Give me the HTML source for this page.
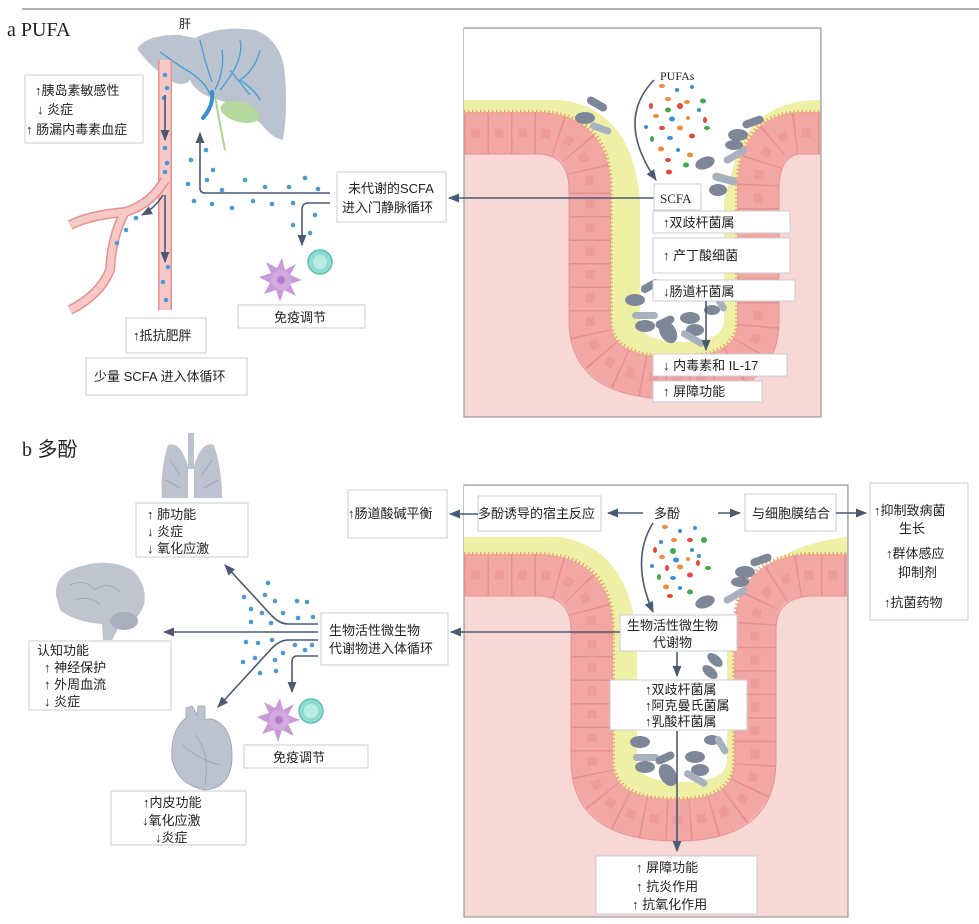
<!DOCTYPE html>
<html><head><meta charset="utf-8"><style>
html,body{margin:0;padding:0;background:#fff}
svg{display:block}
text{font-family:"Liberation Sans","Noto Sans CJK SC",sans-serif;font-size:13px;fill:#222}
.s{font-family:"Liberation Serif","Noto Serif CJK SC",serif}
.bx{fill:#fff;stroke:#c9ccd3;stroke-width:1}
.ln{fill:none;stroke:#4a5a74;stroke-width:1.6}
.d{fill:#4a9ad6}
.bac{fill:#7e8798}
.bac2{fill:#a9b0be}
</style></head><body>
<svg width="979" height="924" viewBox="0 0 979 924" xmlns="http://www.w3.org/2000/svg">
<defs>
<marker id="ah" viewBox="0 0 10 10" refX="9" refY="5" markerWidth="7" markerHeight="7" orient="auto-start-reverse"><path d="M0,1 L10,5 L0,9 Z" fill="#4a5a74"/></marker>
</defs>
<line x1="22" y1="9" x2="979" y2="9" stroke="#9a9a9a" stroke-width="1.5"/>
<text x="7" y="36" class="s" style="font-size:20px">a PUFA</text>
<text x="22" y="456" style="font-size:20px"><tspan class="s">b</tspan> 多酚</text>

<!-- ===== Panel a intestine ===== -->
<rect x="464" y="28" width="357" height="389" fill="#f8d8d4" stroke="#888" stroke-width="1"/>
<path d="M464,29 L820,29 L820,133 L800,133 Q758,135 758,190 L758,320 Q758,378 675,378 Q590,378 590,320 L590,190 Q590,135 540,133 L464,133 Z" fill="#eef0a6"/>
<path d="M464,29 L820,29 L820,100 Q760,100 738,150 L724,200 L724,320 Q724,342 682,342 Q640,342 640,320 L640,200 Q632,108 560,100 L464,100 Z" fill="#fff"/>
<path d="M464,133 L540,133 Q590,135 590,190 L590,320 Q590,378 675,378 Q758,378 758,320 L758,190 Q758,135 800,133 L820,133" fill="none" stroke="#f2a7a5" stroke-width="42"/>
<path d="M464,133 L540,133 Q590,135 590,190 L590,320 Q590,378 675,378 Q758,378 758,320 L758,190 Q758,135 800,133 L820,133" fill="none" stroke="#e68f8f" stroke-width="42" stroke-dasharray="1.5 22"/>
<path d="M464,133 L540,133 Q590,135 590,190 L590,320 Q590,378 675,378 Q758,378 758,320 L758,190 Q758,135 800,133 L820,133" fill="none" stroke="#ec9a9a" stroke-width="9" stroke-dasharray="9 14.5" stroke-dashoffset="-7"/>
<path d="M464,112 L540,112 Q611,114 611,190 L611,320 Q611,357 675,357 Q737,357 737,320 L737,190 Q737,114 800,112 L820,112" fill="none" stroke="#e8a878" stroke-width="4" stroke-dasharray="1.5 2.5"/>
<path d="M464,154 L540,154 Q569,156 569,190 L569,320 Q569,399 675,399 Q779,399 779,320 L779,190 Q779,156 800,154 L820,154" fill="none" stroke="#e89090" stroke-width="1"/>
<g>
<rect x="586" y="100" width="22" height="8" rx="4" class="bac" transform="rotate(30 597 104)"/>
<ellipse cx="585" cy="118" rx="10" ry="6" class="bac"/>
<rect x="590" y="125" width="22" height="7" rx="3.5" class="bac2" transform="rotate(20 601 128)"/>
<rect x="742" y="118" width="22" height="8" rx="4" class="bac" transform="rotate(-20 753 122)"/>
<ellipse cx="738" cy="135" rx="10" ry="6" class="bac"/>
<ellipse cx="734" cy="145" rx="9" ry="5" class="bac"/>
<rect x="722" y="152" width="26" height="7" rx="3.5" class="bac2" transform="rotate(-30 735 155)"/>
<ellipse cx="705" cy="163" rx="10" ry="6" class="bac" transform="rotate(-20 705 163)"/>
<rect x="712" y="175" width="26" height="8" rx="4" class="bac2" transform="rotate(15 725 179)"/>
<ellipse cx="718" cy="190" rx="9" ry="6" class="bac"/>
<rect x="640" y="282" width="20" height="8" rx="4" class="bac" transform="rotate(-30 650 286)"/>
<ellipse cx="635" cy="300" rx="10" ry="6" class="bac"/>
<rect x="632" y="312" width="26" height="7" rx="3.5" class="bac2"/>
<ellipse cx="645" cy="326" rx="10" ry="6" class="bac"/>
<rect x="655" y="318" width="20" height="8" rx="4" class="bac" transform="rotate(-25 665 322)"/>
<ellipse cx="668" cy="332" rx="8" ry="12" class="bac" transform="rotate(-30 668 332)"/>
<ellipse cx="690" cy="318" rx="10" ry="6" class="bac"/>
<ellipse cx="695" cy="330" rx="9" ry="6" class="bac"/>
<rect x="680" y="335" width="26" height="7" rx="3.5" class="bac2" transform="rotate(30 693 338)"/>
<ellipse cx="712" cy="310" rx="8" ry="5" class="bac"/>
<rect x="712" y="300" width="18" height="7" rx="3.5" class="bac2" transform="rotate(60 721 303)"/>
</g>
<g>
<ellipse cx="662" cy="86" rx="3" ry="2" fill="#f08a3c"/><ellipse cx="677" cy="90" rx="2" ry="2" fill="#3a8fd6"/><ellipse cx="692" cy="87" rx="2" ry="2" fill="#3a8fd6"/>
<ellipse cx="668" cy="99" rx="3" ry="2" fill="#f08a3c"/><ellipse cx="687" cy="102" rx="3" ry="2" fill="#f08a3c"/><ellipse cx="703" cy="101" rx="3" ry="2.5" fill="#43a84b"/>
<ellipse cx="651" cy="106" rx="2" ry="3" fill="#e2493b"/><ellipse cx="680" cy="106" rx="3" ry="3" fill="#e2493b"/><ellipse cx="668" cy="110" rx="3" ry="2.5" fill="#43a84b"/><ellipse cx="699" cy="110" rx="2" ry="2" fill="#3a8fd6"/>
<ellipse cx="656" cy="116" rx="3" ry="2" fill="#f08a3c"/><ellipse cx="672" cy="119" rx="3" ry="2.5" fill="#3a8fd6"/><ellipse cx="688" cy="118" rx="2" ry="2" fill="#f08a3c"/><ellipse cx="705" cy="120" rx="2" ry="3" fill="#e2493b"/>
<ellipse cx="646" cy="127" rx="2" ry="2" fill="#3a8fd6"/><ellipse cx="662" cy="128" rx="3" ry="2" fill="#e2493b"/><ellipse cx="680" cy="128" rx="3" ry="2.5" fill="#f08a3c"/><ellipse cx="707" cy="128" rx="3" ry="2" fill="#43a84b"/>
<ellipse cx="652" cy="139" rx="2" ry="3" fill="#43a84b"/><ellipse cx="670" cy="138" rx="3" ry="2" fill="#3a8fd6"/><ellipse cx="692" cy="136" rx="3" ry="2.5" fill="#e2493b"/>
<ellipse cx="661" cy="149" rx="3" ry="2.5" fill="#f08a3c"/><ellipse cx="678" cy="150" rx="2" ry="2" fill="#3a8fd6"/><ellipse cx="690" cy="155" rx="3" ry="2.5" fill="#f08a3c"/>
<ellipse cx="668" cy="160" rx="3" ry="2" fill="#e2493b"/><ellipse cx="686" cy="165" rx="3" ry="2.5" fill="#43a84b"/><ellipse cx="669" cy="172" rx="3" ry="2.5" fill="#e2493b"/>
</g>
<text x="660" y="80" class="s" style="font-size:12px">PUFAs</text>
<path d="M654,80 Q615,120 656,180" class="ln" marker-end="url(#ah)"/>
<line x1="654" y1="198" x2="449" y2="198" class="ln" marker-end="url(#ah)"/>
<rect x="654" y="184" width="47" height="26" class="bx"/><text x="660" y="203" class="s" style="font-size:13px">SCFA</text>
<rect x="653" y="211" width="137" height="22" class="bx"/><text x="663" y="227">↑双歧杆菌属</text>
<rect x="653" y="238" width="137" height="35" class="bx"/><text x="663" y="260">↑  产丁酸细菌</text>
<rect x="653" y="280" width="142" height="21" class="bx"/><text x="663" y="296">↓肠道杆菌属</text>
<line x1="706" y1="301" x2="706" y2="350" class="ln" marker-end="url(#ah)"/>
<rect x="653" y="354" width="134" height="22" class="bx"/><text x="663" y="370">↓  内毒素和  IL-17</text>
<rect x="653" y="381" width="109" height="21" class="bx"/><text x="663" y="396">↑  屏障功能</text>

<!-- ===== Panel a left ===== -->
<text x="179" y="28" style="font-size:12px">肝</text>
<path d="M138,47 Q150,34 180,35 L195,38 Q220,25 255,30 Q282,40 285,75 Q288,110 283,140 Q272,138 262,125 Q240,105 212,98 Q195,92 190,80 Q185,86 175,83 Q155,72 138,50 Z" fill="#bcc3d0"/>
<path d="M160,52 Q185,70 190,72 Q208,85 210,95 M200,40 Q205,62 212,82 M222,50 Q225,70 215,90 M240,40 Q245,60 220,90 M260,50 Q255,70 240,80 Q255,90 260,100 M230,70 Q242,85 250,95" fill="none" stroke="#4a9fd0" stroke-width="1.4"/>
<path d="M212,92 Q214,105 203,118" fill="none" stroke="#3a8fd0" stroke-width="4" stroke-linecap="round"/>
<path d="M215,95 Q218,115 225,150" fill="none" stroke="#a9d68a" stroke-width="2"/>
<ellipse cx="240" cy="112" rx="20" ry="10" fill="#b5d89e" transform="rotate(15 240 112)"/>
<path d="M165,60 L165,310" stroke="#e88f8f" stroke-width="14"/>
<path d="M165,60 L165,310" stroke="#f7c9c6" stroke-width="11"/>
<path d="M165,180 Q150,205 125,212 Q90,215 70,225 M125,212 Q112,235 110,270 Q100,295 70,310" fill="none" stroke="#e88f8f" stroke-width="10"/>
<path d="M165,180 Q150,205 125,212 Q90,215 70,225 M125,212 Q112,235 110,270 Q100,295 70,310" fill="none" stroke="#f7c9c6" stroke-width="7"/>
<g class="d"><circle cx="165" cy="75" r="2.3"/><circle cx="167" cy="88" r="2.3"/><circle cx="164" cy="98" r="2.3"/><circle cx="165" cy="148" r="2.3"/><circle cx="167" cy="163" r="2.3"/><circle cx="165" cy="172" r="2.3"/><circle cx="136" cy="218" r="2.3"/><circle cx="126" cy="230" r="2.3"/><circle cx="117" cy="243" r="2.3"/><circle cx="168" cy="267" r="2.3"/><circle cx="163" cy="282" r="2.3"/><circle cx="166" cy="300" r="2.3"/></g>
<line x1="165" y1="95" x2="165" y2="140" class="ln" marker-end="url(#ah)"/>
<line x1="165" y1="195" x2="165" y2="262" class="ln" marker-end="url(#ah)"/>
<path d="M163,195 Q155,208 142,215" class="ln" marker-end="url(#ah)"/>
<rect x="25" y="75" width="118" height="68" class="bx"/>
<text x="35" y="95">↑胰岛素敏感性</text><text x="37" y="114">↓  炎症</text><text x="26" y="134">↑  肠漏内毒素血症</text>
<rect x="126" y="318" width="80" height="35" class="bx"/><text x="133" y="340">↑抵抗肥胖</text>
<rect x="86" y="358" width="161" height="37" class="bx"/><text x="94" y="381">少量 SCFA 进入体循环</text>
<path d="M330,193 L205,193 Q200,193 200,188 L200,133" class="ln" marker-end="url(#ah)"/>
<path d="M330,203 L308,203 Q302,203 302,210 L302,245" class="ln" marker-end="url(#ah)"/>
<g class="d"><circle cx="206" cy="150" r="2.3"/><circle cx="191" cy="160" r="2.3"/><circle cx="213" cy="170" r="2.3"/><circle cx="188" cy="184" r="2.3"/><circle cx="207" cy="180" r="2.3"/><circle cx="222" cy="190" r="2.3"/><circle cx="245" cy="180" r="2.3"/><circle cx="265" cy="187" r="2.3"/><circle cx="289" cy="187" r="2.3"/><circle cx="305" cy="178" r="2.3"/><circle cx="318" cy="189" r="2.3"/><circle cx="194" cy="201" r="2.3"/><circle cx="212" cy="204" r="2.3"/><circle cx="232" cy="208" r="2.3"/><circle cx="253" cy="201" r="2.3"/><circle cx="272" cy="204" r="2.3"/><circle cx="293" cy="203" r="2.3"/><circle cx="315" cy="215" r="2.3"/><circle cx="293" cy="225" r="2.3"/><circle cx="310" cy="233" r="2.3"/></g>
<rect x="337" y="172" width="109" height="50" class="bx"/><text x="348" y="193">未代谢的SCFA</text><text x="342" y="212">进入门静脉循环</text>
<g><path d="M282,258 L285,270 L296,264 L290,275 L302,280 L290,284 L296,296 L284,290 L280,302 L276,290 L264,294 L270,283 L259,277 L271,273 L266,262 L277,268 Z" fill="#c99ad8"/><circle cx="281" cy="280" r="10" fill="#d4a9e0"/><circle cx="281" cy="280" r="4" fill="#b67fcc"/></g>
<circle cx="320" cy="262" r="12" fill="#8fdbd0" stroke="#5cc0b3" stroke-width="1.5"/><circle cx="320" cy="262" r="7" fill="#b9ece4"/>
<rect x="238" y="305" width="127" height="23" class="bx"/><text x="274" y="322">免疫调节</text>

<!-- ===== Panel b intestine ===== -->
<rect x="464" y="485" width="384" height="432" fill="#f8d8d4" stroke="#888" stroke-width="1"/>
<path d="M464,486 L847,486 L847,575 L810,575 Q755,577 755,630 L755,760 Q755,820 677,820 Q592,820 592,760 L592,630 Q592,577 540,575 L464,575 Z" fill="#eef0a6"/>
<path d="M464,486 L847,486 L847,537 Q775,545 745,590 L727,640 L727,760 Q727,782 682,782 Q637,782 637,760 L637,640 Q630,548 560,537 L464,537 Z" fill="#fff"/>
<path d="M464,575 L540,575 Q592,577 592,630 L592,760 Q592,820 677,820 Q755,820 755,760 L755,630 Q755,577 810,575 L847,575" fill="none" stroke="#f2a7a5" stroke-width="42"/>
<path d="M464,575 L540,575 Q592,577 592,630 L592,760 Q592,820 677,820 Q755,820 755,760 L755,630 Q755,577 810,575 L847,575" fill="none" stroke="#e68f8f" stroke-width="42" stroke-dasharray="1.5 22"/>
<path d="M464,575 L540,575 Q592,577 592,630 L592,760 Q592,820 677,820 Q755,820 755,760 L755,630 Q755,577 810,575 L847,575" fill="none" stroke="#ec9a9a" stroke-width="9" stroke-dasharray="9 14.5" stroke-dashoffset="-7"/>
<path d="M464,554 L540,554 Q613,556 613,630 L613,760 Q613,799 677,799 Q734,799 734,760 L734,630 Q734,556 810,554 L847,554" fill="none" stroke="#e8a878" stroke-width="4" stroke-dasharray="1.5 2.5"/>
<path d="M464,596 L540,596 Q571,598 571,630 L571,760 Q571,841 677,841 Q776,841 776,760 L776,630 Q776,598 810,596 L847,596" fill="none" stroke="#e89090" stroke-width="1"/>
<g>
<rect x="750" y="556" width="22" height="8" rx="4" class="bac" transform="rotate(-20 761 560)"/>
<ellipse cx="745" cy="572" rx="10" ry="6" class="bac"/><ellipse cx="740" cy="582" rx="9" ry="5" class="bac"/>
<rect x="722" y="592" width="26" height="7" rx="3.5" class="bac2" transform="rotate(-30 735 595)"/>
<ellipse cx="705" cy="602" rx="10" ry="6" class="bac" transform="rotate(-20 705 602)"/>
<ellipse cx="715" cy="660" rx="9" ry="5" class="bac" transform="rotate(40 715 660)"/>
<ellipse cx="710" cy="672" rx="9" ry="5" class="bac" transform="rotate(40 710 672)"/>
<ellipse cx="640" cy="742" rx="10" ry="6" class="bac"/>
<rect x="633" y="754" width="26" height="7" rx="3.5" class="bac2"/>
<ellipse cx="645" cy="767" rx="10" ry="6" class="bac"/>
<rect x="655" y="754" width="20" height="8" rx="4" class="bac" transform="rotate(-25 665 758)"/>
<ellipse cx="668" cy="775" rx="8" ry="12" class="bac" transform="rotate(-30 668 775)"/>
<ellipse cx="695" cy="757" rx="10" ry="6" class="bac"/><ellipse cx="700" cy="770" rx="9" ry="6" class="bac"/>
<rect x="683" y="775" width="26" height="7" rx="3.5" class="bac2" transform="rotate(30 696 778)"/>
<ellipse cx="712" cy="740" rx="8" ry="5" class="bac"/>
<rect x="712" y="742" width="20" height="7" rx="3.5" class="bac2" transform="rotate(60 722 745)"/>
</g>
<g>
<ellipse cx="665" cy="527" rx="3" ry="2" fill="#f08a3c"/><ellipse cx="680" cy="531" rx="2" ry="2" fill="#3a8fd6"/><ellipse cx="695" cy="528" rx="2" ry="2" fill="#3a8fd6"/>
<ellipse cx="661" cy="542" rx="2" ry="2" fill="#3a8fd6"/><ellipse cx="674" cy="540" rx="3" ry="2" fill="#f08a3c"/><ellipse cx="690" cy="540" rx="3" ry="2" fill="#e2493b"/><ellipse cx="704" cy="540" rx="3" ry="3" fill="#43a84b"/>
<ellipse cx="655" cy="550" rx="2" ry="3" fill="#e2493b"/><ellipse cx="673" cy="551" rx="3" ry="3" fill="#43a84b"/><ellipse cx="692" cy="550" rx="2" ry="2" fill="#3a8fd6"/><ellipse cx="699" cy="556" rx="2" ry="2" fill="#3a8fd6"/>
<ellipse cx="662" cy="557" rx="3" ry="2" fill="#f08a3c"/><ellipse cx="676" cy="560" rx="3" ry="2.5" fill="#3a8fd6"/><ellipse cx="688" cy="559" rx="2" ry="2" fill="#f08a3c"/><ellipse cx="698" cy="563" rx="2" ry="3" fill="#e2493b"/>
<ellipse cx="652" cy="566" rx="2" ry="2" fill="#3a8fd6"/><ellipse cx="667" cy="568" rx="2" ry="3" fill="#e2493b"/><ellipse cx="680" cy="567" rx="3" ry="2.5" fill="#f08a3c"/><ellipse cx="708" cy="568" rx="3" ry="2" fill="#43a84b"/>
<ellipse cx="659" cy="577" rx="2" ry="3" fill="#43a84b"/><ellipse cx="673" cy="578" rx="3" ry="2" fill="#3a8fd6"/><ellipse cx="690" cy="575" rx="3" ry="2.5" fill="#e2493b"/>
<ellipse cx="666" cy="587" rx="3" ry="2.5" fill="#f08a3c"/><ellipse cx="680" cy="588" rx="2" ry="2" fill="#3a8fd6"/><ellipse cx="690" cy="592" rx="3" ry="2.5" fill="#43a84b"/><ellipse cx="670" cy="596" rx="3" ry="2" fill="#e2493b"/>
</g>
<text x="654" y="518">多酚</text>
<line x1="643" y1="513" x2="608" y2="513" class="ln" marker-end="url(#ah)"/>
<line x1="718" y1="513" x2="740" y2="513" class="ln" marker-end="url(#ah)"/>
<path d="M653,523 Q630,560 653,612" class="ln" marker-end="url(#ah)"/>
<rect x="478" y="496" width="123" height="35" class="bx"/><text x="478" y="518">多酚诱导的宿主反应</text>
<line x1="478" y1="514" x2="450" y2="514" class="ln" marker-end="url(#ah)"/>
<rect x="348" y="490" width="99" height="48" class="bx"/><text x="348" y="518">↑肠道酸碱平衡</text>
<rect x="745" y="494" width="91" height="37" class="bx"/><text x="752" y="518">与细胞膜结合</text>
<line x1="836" y1="513" x2="866" y2="513" class="ln" marker-end="url(#ah)"/>
<rect x="870" y="483" width="98" height="137" class="bx"/>
<text x="874" y="515">↑抑制致病菌</text><text x="899" y="533">生长</text><text x="886" y="558">↑群体感应</text><text x="898" y="577">抑制剂</text><text x="884" y="607">↑抗菌药物</text>
<rect x="620" y="615" width="117" height="36" class="bx"/><text x="627" y="630">生物活性微生物</text><text x="653" y="647">代谢物</text>
<line x1="620" y1="632" x2="451" y2="632" class="ln" marker-end="url(#ah)"/>
<line x1="677" y1="652" x2="677" y2="676" class="ln" marker-end="url(#ah)"/>
<rect x="610" y="680" width="137" height="50" class="bx"/>
<text x="645" y="694">↑双歧杆菌属</text><text x="645" y="710">↑阿克曼氏菌属</text><text x="645" y="726">↑乳酸杆菌属</text>
<line x1="677" y1="731" x2="677" y2="851" class="ln" marker-end="url(#ah)"/>
<rect x="596" y="856" width="161" height="58" class="bx"/>
<text x="636" y="872">↑    屏障功能</text><text x="636" y="891">↑  抗炎作用</text><text x="632" y="909">↑  抗氧化作用</text>

<!-- ===== Panel b left ===== -->
<path d="M188,466 Q180,440 168,445 Q160,470 162,498 L188,498 Z M194,466 Q202,440 214,445 Q222,470 222,498 L194,498 Z" fill="#bcc2ce"/>
<rect x="188" y="433" width="6" height="36" fill="#bcc2ce"/>
<path d="M170,460 L180,475 M212,460 L202,475 M166,480 L180,488 M218,480 L204,488" stroke="#9aa1b0" stroke-width="0.8"/>
<rect x="136" y="503" width="112" height="54" class="bx"/>
<text x="147" y="519">↑   肺功能</text><text x="147" y="536">↓   炎症</text><text x="147" y="553">↓   氧化应激</text>
<path d="M56,595 Q55,572 82,566 Q110,558 132,570 Q148,585 144,605 Q138,622 120,625 L112,640 L103,640 L102,624 Q75,622 60,610 Z" fill="#bfc4cf"/>
<ellipse cx="124" cy="621" rx="14" ry="9" fill="#a9afbc"/>
<path d="M70,585 Q85,578 95,590 Q108,580 120,592 M75,600 Q90,595 100,605" fill="none" stroke="#9ea5b3" stroke-width="0.8"/>
<rect x="29" y="641" width="142" height="69" class="bx"/>
<text x="37" y="655">认知功能</text><text x="44" y="672">↑   神经保护</text><text x="44" y="689">↑   外周血流</text><text x="44" y="706">↓   炎症</text>
<path d="M186,718 Q170,730 172,760 Q178,785 205,790 Q230,788 232,760 Q233,735 222,725 Q212,716 205,720 L205,706 L198,706 L197,715 L192,706 L186,708 Z" fill="#bcc2ce" stroke="#9aa1b0" stroke-width="0.8"/>
<path d="M195,735 Q210,750 205,785 M182,745 Q200,760 220,765" fill="none" stroke="#9aa1b0" stroke-width="0.8"/>
<rect x="111" y="791" width="135" height="54" class="bx"/>
<text x="143" y="807">↑内皮功能</text><text x="142" y="825">↓氧化应激</text><text x="155" y="842">↓炎症</text>
<rect x="321" y="613" width="127" height="52" class="bx"/><text x="329" y="635">生物活性微生物</text><text x="329" y="653">代谢物进入体循环</text>
<line x1="318" y1="632" x2="164" y2="632" class="ln" marker-end="url(#ah)"/>
<path d="M318,624 L288,624 Q280,624 272,616 L225,565" class="ln" marker-end="url(#ah)"/>
<path d="M318,640 L288,640 Q280,640 272,648 L218,707" class="ln" marker-end="url(#ah)"/>
<path d="M318,656 L297,656 Q292,656 292,662 L292,692" class="ln" marker-end="url(#ah)"/>
<g class="d"><circle cx="268" cy="583" r="2.3"/><circle cx="244" cy="597" r="2.3"/><circle cx="265" cy="595" r="2.3"/><circle cx="275" cy="601" r="2.3"/><circle cx="297" cy="601" r="2.3"/><circle cx="307" cy="602" r="2.3"/><circle cx="251" cy="609" r="2.3"/><circle cx="262" cy="613" r="2.3"/><circle cx="283" cy="613" r="2.3"/><circle cx="298" cy="618" r="2.3"/><circle cx="313" cy="617" r="2.3"/><circle cx="251" cy="622" r="2.3"/><circle cx="271" cy="623" r="2.3"/>
<circle cx="246" cy="642" r="2.3"/><circle cx="258" cy="643" r="2.3"/><circle cx="272" cy="640" r="2.3"/><circle cx="295" cy="645" r="2.3"/><circle cx="312" cy="645" r="2.3"/><circle cx="243" cy="662" r="2.3"/><circle cx="255" cy="658" r="2.3"/><circle cx="275" cy="660" r="2.3"/><circle cx="283" cy="653" r="2.3"/><circle cx="305" cy="650" r="2.3"/><circle cx="260" cy="673" r="2.3"/><circle cx="276" cy="671" r="2.3"/></g>
<g><path d="M280,698 L283,710 L294,704 L288,715 L300,720 L288,724 L294,736 L282,730 L278,742 L274,730 L262,734 L268,723 L257,717 L269,713 L264,702 L275,708 Z" fill="#c99ad8"/><circle cx="279" cy="720" r="10" fill="#d4a9e0"/><circle cx="279" cy="720" r="4" fill="#b67fcc"/></g>
<circle cx="311" cy="711" r="12" fill="#8fdbd0" stroke="#5cc0b3" stroke-width="1.5"/><circle cx="311" cy="711" r="7" fill="#b9ece4"/>
<rect x="244" y="745" width="124" height="23" class="bx"/><text x="273" y="762">免疫调节</text>
</svg>
</body></html>
